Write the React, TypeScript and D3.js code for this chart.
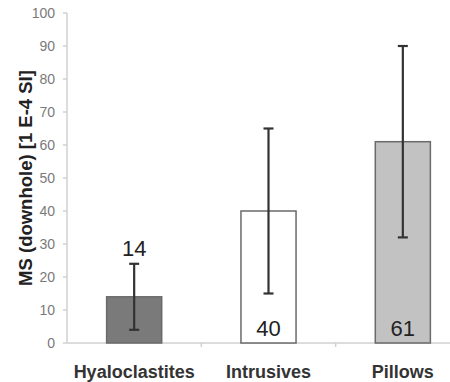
import React from "react";
import * as d3 from "d3";

const categories = ["Hyaloclastites", "Intrusives", "Pillows"];
const means = [14, 40, 61];
const lows = [4, 15, 32];
const highs = [24, 65, 90];
const fills = ["#7a7a7a", "#ffffff", "#c2c2c2"];
const labelInside = [false, true, true];
const yTicks = [0, 10, 20, 30, 40, 50, 60, 70, 80, 90, 100];

const W = 450;
const H = 382;
const left = 67;
const right = 470;
const top = 13;
const bottom = 343;

export default function App() {
  const x = d3.scaleBand<string>().domain(categories).range([left, right]).paddingInner(0.59).paddingOuter(0.295);
  const y = d3.scaleLinear().domain([0, 100]).range([bottom, top]);
  const step = x.step();
  const font = "Liberation Sans, Arial, sans-serif";
  return (
    <svg width={W} height={H} style={{ position: "absolute", left: 0, top: 0 }}>
      <rect width={W} height={H} fill="#fff" />
      {/* axes */}
      <line x1={left} x2={left} y1={top} y2={bottom} stroke="#d0d0d0" strokeWidth={1.5} />
      <line x1={left} x2={right} y1={bottom} y2={bottom} stroke="#d0d0d0" strokeWidth={1.5} />
      {yTicks.map((t) => (
        <g key={t}>
          <line x1={left - 4} x2={left} y1={y(t)} y2={y(t)} stroke="#d0d0d0" strokeWidth={1.5} />
          <text x={55} y={y(t)} dy="0.36em" textAnchor="end" fontFamily={font} fontSize={14} fill="#7a7a7a">
            {t}
          </text>
        </g>
      ))}
      {categories.slice(1).map((c) => (
        <line key={c} x1={x(c)! - (step - x.bandwidth()) / 2} x2={x(c)! - (step - x.bandwidth()) / 2} y1={bottom} y2={bottom + 4} stroke="#d0d0d0" strokeWidth={1.5} />
      ))}
      {/* bars with error bars */}
      {categories.map((c, i) => {
        const bx = x(c)!;
        const cx = bx + x.bandwidth() / 2;
        return (
          <g key={c}>
            <rect x={bx} y={y(means[i])} width={x.bandwidth()} height={bottom - y(means[i])} fill={fills[i]} stroke="#6a6a6a" strokeWidth={1.5} />
            <line x1={cx} x2={cx} y1={y(highs[i])} y2={y(lows[i])} stroke="#333" strokeWidth={2.2} />
            <line x1={cx - 5} x2={cx + 5} y1={y(highs[i])} y2={y(highs[i])} stroke="#333" strokeWidth={2.2} />
            <line x1={cx - 5} x2={cx + 5} y1={y(lows[i])} y2={y(lows[i])} stroke="#333" strokeWidth={2.2} />
            <text
              x={cx}
              y={labelInside[i] ? bottom - 7 : y(highs[i]) - 8}
              textAnchor="middle"
              fontFamily={font}
              fontSize={22}
              fill="#222"
            >
              {means[i]}
            </text>
            <text x={cx} y={378} textAnchor="middle" fontFamily={font} fontSize={18} fontWeight="bold" fill="#333">
              {c}
            </text>
          </g>
        );
      })}
      <text
        transform={`translate(32, 178) rotate(-90)`}
        textAnchor="middle"
        fontFamily={font}
        fontSize={18.5}
        fontWeight="bold"
        fill="#222"
      >
        MS (downhole) [1 E-4 SI]
      </text>
    </svg>
  );
}
